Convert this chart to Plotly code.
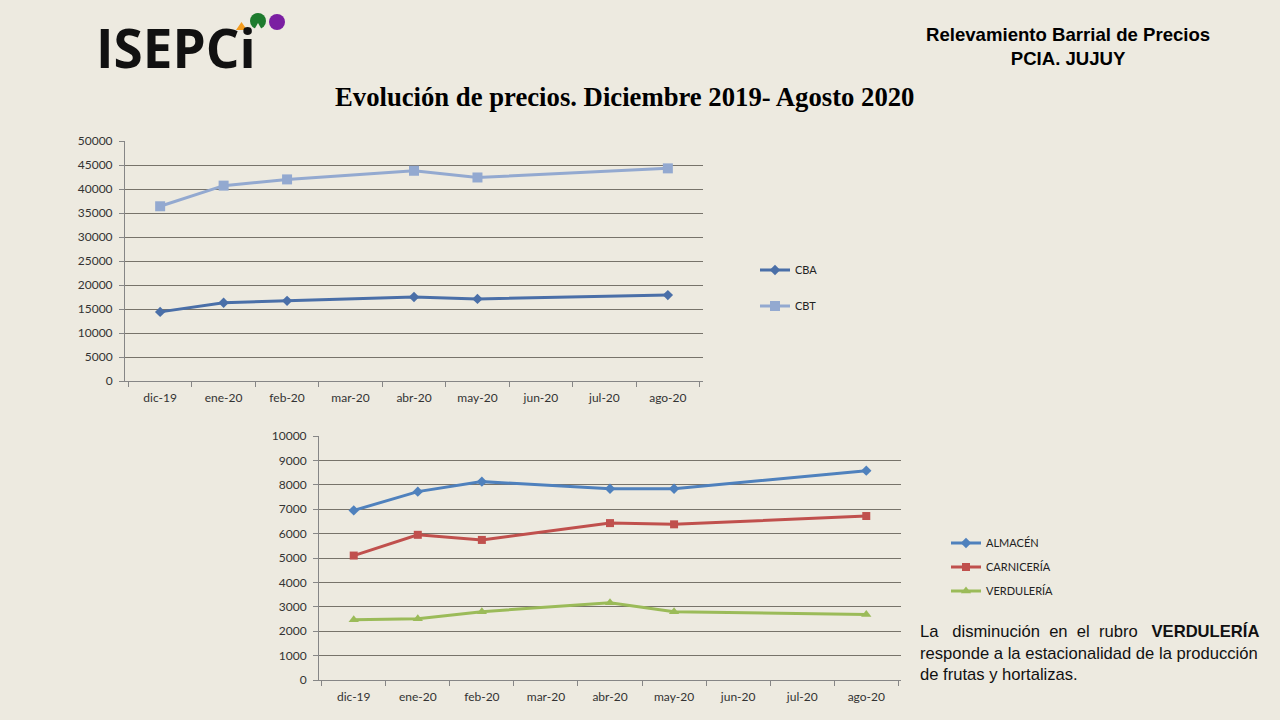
import plotly.graph_objects as go

# month categories (mar, jun, jul have no survey data)
months = ["dic-19", "ene-20", "feb-20", "mar-20", "abr-20", "may-20", "jun-20", "jul-20", "ago-20"]

cba = [14400, 16300, 16700, None, 17500, 17100, None, None, 17900]
cbt = [36400, 40700, 42000, None, 43800, 42400, None, None, 44300]

almacen = [6950, 7720, 8130, None, 7840, 7840, None, None, 8580]
carniceria = [5100, 5950, 5740, None, 6430, 6380, None, None, 6720]
verduleria = [2470, 2510, 2800, None, 3170, 2800, None, None, 2680]

top_ticks = list(range(0, 50001, 5000))
bottom_ticks = list(range(0, 10001, 1000))

BG = "#EDEAE0"
TICK_FONT = dict(family="Lato, Open Sans, sans-serif", size=12, color="#333333")

fig = go.Figure()

top_series = [("CBA", cba, "#4A6FA8", "diamond", 8), ("CBT", cbt, "#93A9D0", "square", 10)]
for name, vals, color, sym, size in top_series:
    fig.add_trace(go.Scatter(
        x=months, y=vals, name=name, mode="lines+markers", connectgaps=True,
        line=dict(color=color, width=3), marker=dict(symbol=sym, size=size, color=color),
        xaxis="x", yaxis="y", legend="legend", legendgroup=name,
    ))

bottom_series = [
    ("ALMACÉN", almacen, "#4F81BD", "diamond", 8),
    ("CARNICERÍA", carniceria, "#C0504D", "square", 8),
    ("VERDULERÍA", verduleria, "#9BBB59", "triangle-up", 9),
]
for name, vals, color, sym, size in bottom_series:
    fig.add_trace(go.Scatter(
        x=months, y=vals, name=name, mode="lines+markers", connectgaps=True,
        line=dict(color=color, width=3), marker=dict(symbol=sym, size=size, color=color),
        xaxis="x2", yaxis="y2", legend="legend2", legendgroup=name,
    ))

xaxis_style = dict(
    type="category", categoryorder="array", categoryarray=months,
    showgrid=False, showline=True, linecolor="#868686", linewidth=1,
    ticks="outside", tickson="boundaries", ticklen=5, tickcolor="#868686",
    ticklabelstandoff=6, tickfont=TICK_FONT, fixedrange=True, automargin=False,
)
yaxis_style = dict(
    showgrid=True, gridcolor="#77736A", gridwidth=1,
    showline=True, linecolor="#868686", linewidth=1,
    ticks="outside", ticklen=5, tickcolor="#868686", tickformat="d",
    ticklabelstandoff=4, tickfont=TICK_FONT, zeroline=False, fixedrange=True, automargin=False,
)

legend_style = dict(
    bgcolor="rgba(0,0,0,0)", font=dict(family="Lato, Open Sans, sans-serif", size=11, color="#222222"),
    itemwidth=30, xanchor="left", yanchor="middle", traceorder="grouped",
)

fig.update_layout(
    width=1280, height=720,
    margin=dict(l=0, r=0, t=0, b=0, pad=0, autoexpand=False),
    paper_bgcolor=BG, plot_bgcolor=BG,
    xaxis=dict(domain=[125 / 1280, 703 / 1280], anchor="y", **xaxis_style),
    yaxis=dict(domain=[1 - 381 / 720, 1 - 141 / 720], anchor="x", range=[0, 50000],
               tickvals=top_ticks, **yaxis_style),
    xaxis2=dict(domain=[319 / 1280, 901 / 1280], anchor="y2", **xaxis_style),
    yaxis2=dict(domain=[1 - 680 / 720, 1 - 436 / 720], anchor="x2", range=[0, 10000],
                tickvals=bottom_ticks, **yaxis_style),
    legend=dict(x=755 / 1280, y=1 - 288 / 720, tracegroupgap=17, **legend_style),
    legend2=dict(x=946 / 1280, y=1 - 567 / 720, tracegroupgap=5, **legend_style),
    showlegend=True,
)

# header texts
fig.add_annotation(
    text="<b>Relevamiento Barrial de Precios</b><br><b>PCIA. JUJUY</b>",
    x=1068 / 1280, y=1 - 46 / 720, xref="paper", yref="paper",
    xanchor="center", yanchor="middle", showarrow=False, align="center",
    font=dict(family="Liberation Sans, Arial, sans-serif", size=18.6, color="#000000"),
)
fig.add_annotation(
    text="<b>Evolución de precios. Diciembre 2019- Agosto 2020</b>",
    x=624 / 1280, y=1 - 97 / 720, xref="paper", yref="paper",
    xanchor="center", yanchor="middle", showarrow=False,
    font=dict(family="Liberation Serif, Times New Roman, serif", size=26.7, color="#000000"),
)

# logo
fig.add_annotation(
    text="<b>ISEPCi</b>",
    x=94 / 1280, y=1 - 48 / 720, xref="paper", yref="paper",
    xanchor="left", yanchor="middle", showarrow=False,
    font=dict(family="Open Sans, sans-serif", size=53, color="#111111"),
)
fig.add_shape(type="path", xref="paper", yref="paper",
              path=f"M {236/1280} {1-30/720} L {247/1280} {1-30/720} L {241.5/1280} {1-22/720} Z",
              fillcolor="#F39C1F", line=dict(width=0))
fig.add_shape(type="circle", xref="paper", yref="paper",
              x0=250 / 1280, x1=266 / 1280, y0=1 - 29 / 720, y1=1 - 13 / 720,
              fillcolor="#1E7B2E", line=dict(width=0))
fig.add_shape(type="path", xref="paper", yref="paper",
              path=f"M {254/1280} {1-30/720} L {262/1280} {1-30/720} L {258/1280} {1-23/720} Z",
              fillcolor=BG, line=dict(width=0))
fig.add_shape(type="circle", xref="paper", yref="paper",
              x0=269 / 1280, x1=285 / 1280, y0=1 - 30 / 720, y1=1 - 14 / 720,
              fillcolor="#7B1FA2", line=dict(width=0))

# note
fig.add_annotation(
    text="La&nbsp;&nbsp; disminución&nbsp; en&nbsp; el&nbsp; rubro&nbsp;&nbsp; <b>VERDULERÍA</b><br>"
         "responde a la estacionalidad de la producción<br>"
         "de frutas y hortalizas.",
    x=918 / 1280, y=1 - 653 / 720, xref="paper", yref="paper",
    xanchor="left", yanchor="middle", showarrow=False, align="left",
    font=dict(family="Liberation Sans, Arial, sans-serif", size=16.6, color="#111111"),
)

fig.write_html("out.html", config={"displayModeBar": False},
               post_script="document.body.style.margin='0';")
